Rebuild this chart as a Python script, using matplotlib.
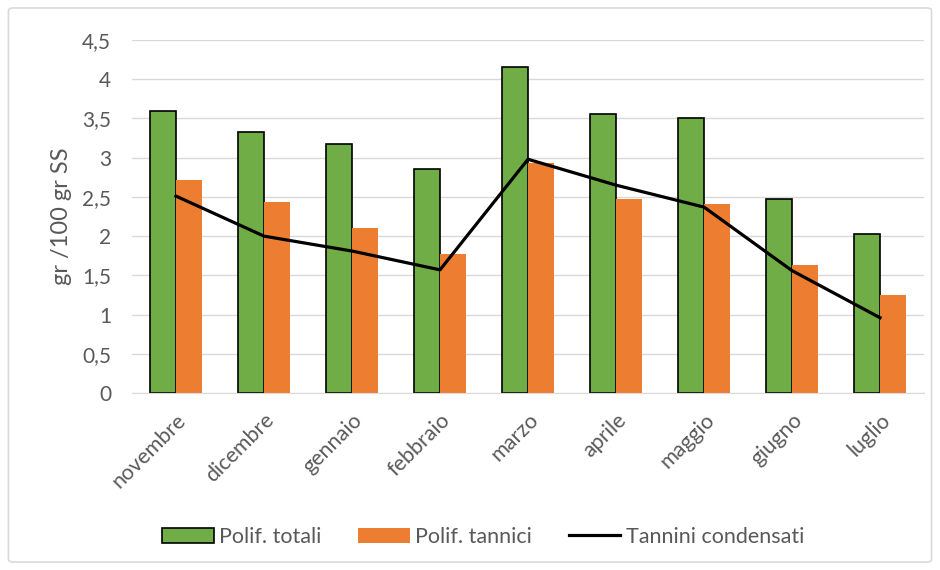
import matplotlib.pyplot as plt
import numpy as np
from matplotlib.patches import FancyBboxPatch

mesi = ["novembre", "dicembre", "gennaio", "febbraio", "marzo",
        "aprile", "maggio", "giugno", "luglio"]
polif_totali = [3.60, 3.33, 3.18, 2.86, 4.16, 3.56, 3.51, 2.47, 2.03]
polif_tannici = [2.72, 2.44, 2.10, 1.77, 2.93, 2.47, 2.41, 1.63, 1.25]
tannini_condensati = [2.51, 2.00, 1.81, 1.57, 2.98, 2.65, 2.37, 1.56, 0.96]

plt.rcParams["font.family"] = ["Lato", "DejaVu Sans"]
grey = "#595959"

fig = plt.figure(figsize=(9.4, 5.7), dpi=100)
# light frame round the chart
fig.patches.append(FancyBboxPatch((0.009, 0.014), 0.982, 0.972,
                                  boxstyle="round,pad=0,rounding_size=0.005",
                                  transform=fig.transFigure, fill=False,
                                  edgecolor="#d9d9d9", linewidth=1.2))

ax = fig.add_axes([0.1404, 0.3105, 0.8426, 0.6193])
x = np.arange(len(mesi))
w = 0.3

b1 = ax.bar(x - w / 2, polif_totali, w, color="#70ad47", edgecolor="black",
            linewidth=1.2, label="Polif. totali", zorder=2)
b2 = ax.bar(x + w / 2, polif_tannici, w, color="#ed7d31", label="Polif. tannici", zorder=2)
l1, = ax.plot(x, tannini_condensati, color="black", linewidth=2.3,
              label="Tannini condensati", zorder=3, solid_joinstyle="round")

ax.set_xlim(-0.5, len(mesi) - 0.5)
ax.set_ylim(0, 4.5)
yt = np.arange(0, 4.51, 0.5)
ax.set_yticks(yt)
ax.set_yticklabels([f"{v:g}".replace(".", ",") for v in yt], color=grey, fontsize=15)
ax.set_xticks(x)
ax.set_xticklabels(mesi, rotation=45, ha="right", rotation_mode="anchor",
                   color=grey, fontsize=15.5)
ax.tick_params(axis="y", length=0, pad=15)
ax.tick_params(axis="x", length=0, pad=12)

ax.grid(axis="y", color="#d9d9d9", linewidth=1, zorder=0)
for s in ["top", "right", "left"]:
    ax.spines[s].set_visible(False)
ax.spines["bottom"].set_color("#d9d9d9")

ax.set_ylabel("gr /100 gr SS", color=grey, fontsize=17)
ax.yaxis.set_label_coords(-0.076, 0.5)

fig.legend([b1, b2, l1], ["Polif. totali", "Polif. tannici", "Tannini condensati"],
           loc="center", bbox_to_anchor=(0.514, 0.058), ncol=3, frameon=False,
           fontsize=15.5, labelcolor=grey, handlelength=2.4, handleheight=0.7,
           columnspacing=1.7, handletextpad=0.25)

fig.savefig("out.png", dpi=100)
